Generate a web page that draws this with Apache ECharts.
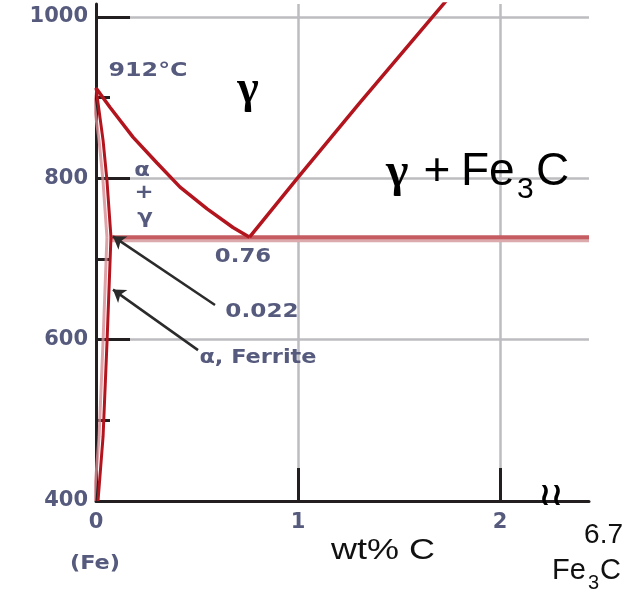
<!DOCTYPE html>
<html>
<head>
<meta charset="utf-8">
<script src="https://cdn.jsdelivr.net/npm/echarts@6/dist/echarts.min.js"></script>
<style>html,body{margin:0;padding:0;background:#fff}#c{width:628px;height:591px}</style>
</head>
<body>
<div id="c"></div>
<script>
// ---- data (wt% C, °C) ----
const yTickLabels = [400, 600, 800, 1000];
const yMajorTicks = [600, 800, 1000];
const yMinorTicks = [500, 700, 900];
const xTickLabels = [0, 1, 2];
const xMajorTicks = [1, 2];
const a3Line = [[0, 912], [0.069, 888], [0.183, 851], [0.302, 819], [0.416, 789], [0.55, 762], [0.678, 739], [0.76, 727]];
const acmLine = [[0.76, 727], [1.0, 801], [1.3, 892], [1.74, 1022]];
const alphaGammaLine = [[0, 912], [0.035, 847], [0.054, 798], [0.074, 727]];
const alphaSolvus = [[0.074, 727], [0.055, 600], [0.035, 480], [0.01, 400]];
const eutectoidLine = [[0.07, 727], [2.44, 727]];
const leader0022 = [[0.589, 643], [0.084, 728]];
const leaderFerrite = [[0.505, 587], [0.084, 662]];
const fe3cLine = [[2.475, 400], [2.475, 1000]]; // drawn after the axis break
const X_MAX = 2.44, Y_MIN = 400, Y_MAX = 1016;

const chart = echarts.init(document.getElementById('c'));
const ink = '#231f20', grid = '#bdbdc1', red = '#b3151e', lab = '#565b7e';
const small = {fontFamily: 'DejaVu Sans', fontWeight: 'bold', fontSize: 19, fill: lab, align: 'center', verticalAlign: 'middle', textAlign: 'center', textVerticalAlign: 'middle'};
function txt(x, y, text, extra, sx) {
  return {type: 'text', x: x, y: y, scaleX: sx || 1, z: 10, silent: true,
    style: Object.assign({}, small, {text: text}, extra || {})};
}
const big = {fontFamily: 'Liberation Sans', fontWeight: 'normal', fill: '#000', align: 'left', textAlign: 'left', verticalAlign: 'middle', textVerticalAlign: 'middle'};
const redLine = (data, extra) => ({type: 'line', data: data, symbol: 'none', silent: true, z: 3,
  lineStyle: Object.assign({color: red, width: 3}, extra || {})});
const tickFont = {fontFamily: 'DejaVu Sans', fontWeight: 'bold', fontSize: 21, color: lab, formatter: v => String(v)};

chart.setOption({
  animation: false,
  grid: {left: 96, right: 39, top: 4, bottom: 90, containLabel: false},
  xAxis: [
    {type: 'value', min: 0, max: X_MAX, interval: 1, z: 0,
      axisLine: {show: true, lineStyle: {color: ink, width: 3}},
      axisTick: {show: false},
      axisLabel: Object.assign({customValues: xTickLabels, margin: 11}, tickFont),
      splitLine: {show: true, showMinLine: false, showMaxLine: false, lineStyle: {color: grid, width: 2.5}}},
    {type: 'value', min: 0, max: X_MAX, interval: 1, position: 'bottom', z: 1,
      axisLine: {show: false}, axisLabel: {show: false}, splitLine: {show: false},
      axisTick: {show: true, inside: true, length: 33, customValues: xMajorTicks, lineStyle: {color: ink, width: 3}}}
  ],
  yAxis: [
    {type: 'value', min: Y_MIN, max: Y_MAX, interval: 200, z: 0,
      axisLine: {show: true, lineStyle: {color: ink, width: 3}},
      axisTick: {show: false},
      axisLabel: Object.assign({customValues: yTickLabels, margin: 8}, tickFont),
      splitLine: {show: true, showMinLine: false, showMaxLine: false, lineStyle: {color: grid, width: 2.5}}},
    {type: 'value', min: Y_MIN, max: Y_MAX, interval: 200, position: 'left', z: 1,
      axisLine: {show: false}, axisLabel: {show: false}, splitLine: {show: false},
      axisTick: {show: true, inside: true, length: 34, customValues: yMajorTicks, lineStyle: {color: ink, width: 3}}},
    {type: 'value', min: Y_MIN, max: Y_MAX, interval: 200, position: 'left', z: 1,
      axisLine: {show: false}, axisLabel: {show: false}, splitLine: {show: false},
      axisTick: {show: true, inside: true, length: 14, customValues: yMinorTicks, lineStyle: {color: ink, width: 3}}}
  ],
  series: [
    redLine(eutectoidLine, {color: '#c45c62', width: 4, shadowColor: '#dca9ac', shadowOffsetY: 3, shadowBlur: 0}),
    redLine(a3Line, {width: 3.5}),
    redLine(acmLine, {width: 3.5}),
    redLine(alphaGammaLine, {shadowColor: 'rgba(214,140,148,0.8)', shadowOffsetX: -4, shadowBlur: 0}),
    redLine(alphaSolvus, {shadowColor: 'rgba(214,140,148,0.8)', shadowOffsetX: -4, shadowBlur: 0}),
    {type: 'line', data: [], silent: true, z: 4,
      markLine: {silent: true, animation: false, symbol: ['none', 'arrow'], symbolSize: 12,
        label: {show: false},
        lineStyle: {color: '#2b2b2b', width: 2.5, type: 'solid', curveness: -0.12},
        data: [
          [{coord: leader0022[0]}, {coord: leader0022[1]}],
          [{coord: leaderFerrite[0]}, {coord: leaderFerrite[1]}]
        ]}},
    {type: 'line', data: [], silent: true, z: 4,
      markLine: {silent: true, animation: false, symbol: ['none', 'none'],
        label: {show: false},
        lineStyle: {color: '#111', width: 1.5, type: 'solid'},
        data: [[{coord: fe3cLine[0]}, {coord: fe3cLine[1]}]]}}
  ],
  graphic: [
    txt(148, 71, '912°C', null, 1.25),
    txt(142, 171, 'α', null, 1.2),
    txt(144, 193, '+', null, 1.2),
    txt(145, 218, 'γ', null, 1.2),
    txt(243, 257, '0.76', null, 1.2),
    txt(262, 312, '0.022', null, 1.22),
    txt(258, 358, 'α, Ferrite', null, 1.18),
    txt(95, 564, '(Fe)', null, 1.18),
    txt(248, 90, 'γ', {fontFamily: 'Liberation Serif', fontWeight: 'bold', fontSize: 46, fill: '#000'}),
    txt(386, 174, 'γ', Object.assign({}, big, {fontFamily: 'Liberation Serif', fontWeight: 'bold', fontSize: 48})),
    txt(437, 172, '+', Object.assign({}, big, {fontSize: 46, align: 'center', textAlign: 'center'})),
    txt(461, 172, 'Fe', Object.assign({}, big, {fontSize: 46})),
    txt(517, 190, '3', Object.assign({}, big, {fontSize: 30})),
    txt(536, 172, 'C', Object.assign({}, big, {fontSize: 46})),
    txt(383, 551, 'wt% C', Object.assign({}, big, {fontSize: 30, fill: '#111', align: 'center', textAlign: 'center'}), 1.2),
    txt(623, 535, '6.7', Object.assign({}, big, {fontSize: 28, fill: '#111', align: 'right', textAlign: 'right'})),
    txt(552, 571, 'Fe', Object.assign({}, big, {fontSize: 29, fill: '#111'})),
    txt(588, 583, '3', Object.assign({}, big, {fontSize: 20, fill: '#111'})),
    txt(600, 571, 'C', Object.assign({}, big, {fontSize: 29, fill: '#111'})),
    txt(551, 497, '≀≀', {fontFamily: 'DejaVu Sans', fontWeight: 'bold', fontSize: 32, fill: '#000'})
  ]
});
</script>
</body>
</html>
